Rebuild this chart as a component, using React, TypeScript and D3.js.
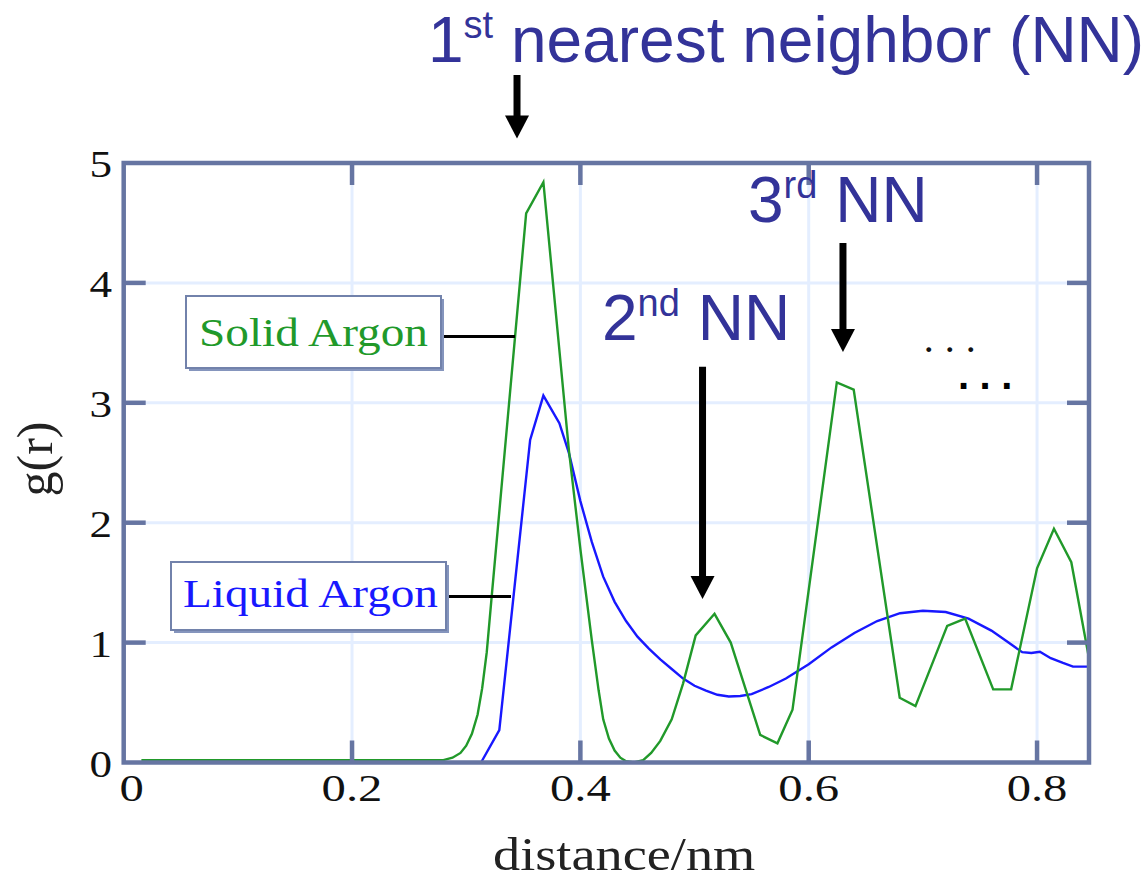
import { useRef, useEffect } from "react";
import * as d3 from "d3";

// radial distribution function: r in nm, g(r)
const solidR = [0.0155, 0.1, 0.2, 0.28, 0.288, 0.295, 0.3, 0.305, 0.31, 0.314, 0.318, 0.322, 0.3525, 0.3676, 0.39, 0.4, 0.41, 0.416, 0.42, 0.425, 0.43, 0.435, 0.44, 0.447, 0.455, 0.462, 0.47, 0.48, 0.49, 0.501, 0.5175, 0.5317, 0.5575, 0.5726, 0.5858, 0.6246, 0.6394, 0.6797, 0.6935, 0.7213, 0.737, 0.7616, 0.7773, 0.8, 0.8148, 0.83, 0.8455];
const solidG = [0.02, 0.02, 0.02, 0.02, 0.04, 0.08, 0.14, 0.24, 0.4, 0.62, 0.92, 1.35, 4.58, 4.84, 2.6, 1.78, 1.02, 0.6, 0.36, 0.2, 0.1, 0.04, 0.01, 0, 0.02, 0.08, 0.18, 0.36, 0.66, 1.06, 1.24, 1.0, 0.23, 0.16, 0.44, 3.17, 3.11, 0.54, 0.47, 1.14, 1.2, 0.61, 0.61, 1.62, 1.95, 1.67, 0.87];

const liquidR = [0.313, 0.329, 0.356, 0.3676, 0.3816, 0.39, 0.4, 0.41, 0.42, 0.43, 0.44, 0.45, 0.46, 0.47, 0.48, 0.49, 0.5, 0.51, 0.52, 0.53, 0.54, 0.55, 0.565, 0.58, 0.6, 0.62, 0.64, 0.66, 0.68, 0.7, 0.72, 0.74, 0.76, 0.775, 0.787, 0.795, 0.8025, 0.812, 0.8227, 0.8315, 0.8455];
const liquidG = [0, 0.27, 2.69, 3.06, 2.83, 2.58, 2.18, 1.84, 1.55, 1.34, 1.18, 1.05, 0.95, 0.86, 0.78, 0.7, 0.64, 0.6, 0.565, 0.55, 0.555, 0.57, 0.63, 0.7, 0.82, 0.96, 1.08, 1.18, 1.245, 1.265, 1.255, 1.2, 1.1, 1.0, 0.92, 0.913, 0.924, 0.87, 0.83, 0.8, 0.8];

const xTicks = [0, 0.2, 0.4, 0.6, 0.8];
const yTicks = [0, 1, 2, 3, 4, 5];

// arrows pointing at the neighbour shells: [r, g at tail, g at tip]
const arrowR = [0.3445, 0.507, 0.63];
const arrowFrom = [5.734, 3.3, 4.333];
const arrowTo = [5.205, 1.364, 3.424];

const SERIF = "'Liberation Serif', 'Times New Roman', serif";
const SANS = "'Liberation Sans', Arial, sans-serif";
const FRAME = "#6675a2";
const GRID = "#e4eeff";
const GREEN = "#21992a";
const BLUE = "#1818ff";
const NAVY = "#333399";

function stretch(sel: any, k: number) {
  sel.each(function (this: SVGTextElement) {
    const len = this.getComputedTextLength();
    this.setAttribute("textLength", String(len * k));
    this.setAttribute("lengthAdjust", "spacingAndGlyphs");
  });
}

export default function App() {
  const svgRef = useRef<SVGSVGElement>(null);

  useEffect(() => {
    if (!svgRef.current) return;
    const svg = d3.select(svgRef.current);
    svg.selectAll("*").remove();

    const x = d3.scaleLinear().domain([0, 0.8455]).range([123.7, 1089]);
    const y = d3.scaleLinear().domain([0, 5]).range([762.5, 163]);
    const [x0, x1] = x.range();
    const [y0, y1] = y.range();

    // grid
    const grid = svg.append("g");
    grid.selectAll(".gx")
      .data(xTicks.slice(1))
      .enter()
      .append("line")
      .attr("x1", (d) => x(d))
      .attr("x2", (d) => x(d))
      .attr("y1", y1)
      .attr("y2", y0)
      .attr("stroke", GRID)
      .attr("stroke-width", 3);
    grid.selectAll(".gy")
      .data(yTicks.slice(1, -1))
      .enter()
      .append("line")
      .attr("x1", x0)
      .attr("x2", x1)
      .attr("y1", (d) => y(d))
      .attr("y2", (d) => y(d))
      .attr("stroke", GRID)
      .attr("stroke-width", 3);

    // curves
    const solid = solidR.map((r, i) => [r, solidG[i]] as [number, number]);
    const liquid = liquidR.map((r, i) => [r, liquidG[i]] as [number, number]);
    const line = d3.line<[number, number]>().x((d) => x(d[0])).y((d) => y(d[1]));
    svg.append("path").attr("d", line(liquid)).attr("fill", "none").attr("stroke", BLUE).attr("stroke-width", 2.4);
    svg.append("path").attr("d", line(solid)).attr("fill", "none").attr("stroke", GREEN).attr("stroke-width", 2.4);

    // frame with inward ticks on all sides
    const tickLen = 22;
    const frame = svg.append("g").attr("stroke", FRAME).attr("stroke-width", 4.5);
    xTicks.slice(1).forEach((t) => {
      frame.append("line").attr("x1", x(t)).attr("x2", x(t)).attr("y1", y0).attr("y2", y0 - tickLen);
      frame.append("line").attr("x1", x(t)).attr("x2", x(t)).attr("y1", y1).attr("y2", y1 + tickLen);
    });
    yTicks.slice(1, -1).forEach((t) => {
      frame.append("line").attr("x1", x0).attr("x2", x0 + tickLen).attr("y1", y(t)).attr("y2", y(t));
      frame.append("line").attr("x1", x1).attr("x2", x1 - tickLen).attr("y1", y(t)).attr("y2", y(t));
    });
    frame.append("rect")
      .attr("x", x0)
      .attr("y", y1)
      .attr("width", x1 - x0)
      .attr("height", y0 - y1)
      .attr("fill", "none");

    // tick labels
    const xl = svg.selectAll(".xl")
      .data(xTicks)
      .enter()
      .append("text")
      .attr("x", (d) => x(d) + (d === 0 ? 8 : 0))
      .attr("y", 801)
      .attr("text-anchor", "middle")
      .attr("font-family", SERIF)
      .attr("font-size", 38)
      .attr("fill", "#111")
      .text((d) => String(d));
    stretch(xl, 1.28);

    const yl = svg.selectAll(".yl")
      .data(yTicks)
      .enter()
      .append("text")
      .attr("x", 112)
      .attr("y", (d) => y(d) + 14)
      .attr("text-anchor", "end")
      .attr("font-family", SERIF)
      .attr("font-size", 37)
      .attr("fill", "#111")
      .text((d) => String(d));
    stretch(yl, 1.22);

    // axis titles
    const xt = svg.append("text")
      .attr("x", 493)
      .attr("y", 870)
      .attr("font-family", SERIF)
      .attr("font-size", 46)
      .attr("fill", "#222")
      .text("distance/nm");
    stretch(xt, 1.18);

    svg.append("text")
      .attr("transform", "translate(52,459) rotate(-90)")
      .attr("text-anchor", "middle")
      .attr("font-family", SERIF)
      .attr("font-size", 50)
      .attr("fill", "#222")
      .text("g(r)");

    // legend callouts
    const callout = (bx: number, by: number, bw: number, bh: number, label: string, color: string, tx: number, tb: number, tw: number, ly: number, lx2: number) => {
      svg.append("rect").attr("x", bx + 3).attr("y", by + 3).attr("width", bw).attr("height", bh).attr("fill", "#8595bd");
      svg.append("rect").attr("x", bx).attr("y", by).attr("width", bw).attr("height", bh).attr("fill", "#fff").attr("stroke", "#7282ab").attr("stroke-width", 2);
      svg.append("text")
        .attr("x", tx)
        .attr("y", tb)
        .attr("font-family", SERIF)
        .attr("font-size", 41)
        .attr("fill", color)
        .attr("textLength", tw)
        .attr("lengthAdjust", "spacingAndGlyphs")
        .text(label);
      svg.append("line").attr("x1", bx + bw + 3).attr("x2", lx2).attr("y1", ly).attr("y2", ly).attr("stroke", "#000").attr("stroke-width", 3);
    };
    callout(186, 296, 255, 72, "Solid Argon", GREEN, 199, 346, 229, 336.5, 515);
    callout(171, 562, 275, 68, "Liquid Argon", BLUE, 183, 607, 255, 596.5, 511);

    // arrows
    arrowR.forEach((r, i) => {
      const ax = x(r);
      const top = y(arrowFrom[i]);
      const tip = y(arrowTo[i]);
      const head = 23;
      svg.append("line").attr("x1", ax).attr("x2", ax).attr("y1", top).attr("y2", tip - head + 2).attr("stroke", "#000").attr("stroke-width", 7);
      svg.append("path")
        .attr("d", `M${ax - 12},${tip - head} L${ax + 12},${tip - head} L${ax},${tip} Z`)
        .attr("fill", "#000");
    });

    // neighbour labels
    const nn = (tx: number, ty: number, num: string, sup: string, rest: string) => {
      const t = svg.append("text")
        .attr("x", tx)
        .attr("y", ty)
        .attr("font-family", SANS)
        .attr("font-size", 64)
        .attr("fill", NAVY);
      t.append("tspan").text(num);
      t.append("tspan").attr("font-size", 38).attr("dy", -24).text(sup);
      t.append("tspan").attr("dy", 24).text(" " + rest);
    };
    nn(428, 62, "1", "st", "nearest neighbor (NN)");
    nn(748, 222, "3", "rd", "NN");
    nn(602, 340, "2", "nd", "NN");

    // continuation dots
    svg.append("text")
      .attr("x", 925)
      .attr("y", 352)
      .attr("font-family", SERIF)
      .attr("font-weight", "bold")
      .attr("font-size", 30)
      .attr("letter-spacing", 13.5)
      .attr("fill", "#111")
      .text("...");
    svg.append("text")
      .attr("x", 958)
      .attr("y", 389)
      .attr("font-family", SANS)
      .attr("font-weight", "bold")
      .attr("font-size", 40)
      .attr("letter-spacing", 10.5)
      .attr("fill", "#000")
      .text("...");
  }, []);

  return (
    <div style={{ position: "absolute", left: 0, top: 0 }}>
      <svg ref={svgRef} width={1145} height={883} style={{ display: "block", background: "#fff" }} />
    </div>
  );
}
